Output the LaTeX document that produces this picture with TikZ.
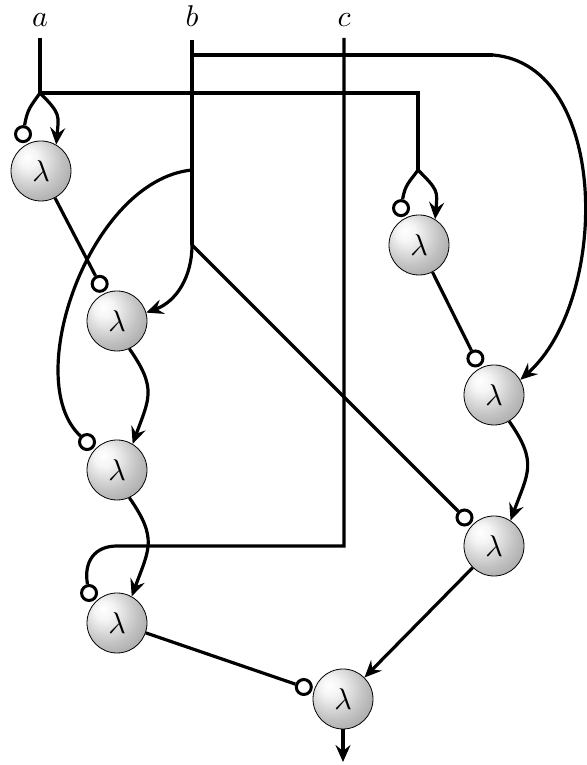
\documentclass[tikz,border=0pt]{standalone}
\usetikzlibrary{arrows.meta,calc}
\newcommand{\bigtxt}[1]{\scalebox{3}{$#1$}}
\pgfdeclareradialshading{lsphere}{\pgfpoint{-12bp}{12bp}}{%
  color(0bp)=(white); color(8bp)=(white!96!black); color(25bp)=(white!76!black);
  color(42bp)=(white!60!black); color(55bp)=(white!46!black); color(70bp)=(white!38!black)}
\begin{document}
\begin{tikzpicture}[x=1pt,y=1pt,
  wire/.style={line width=3.2pt},
  arr/.style={wire,-{Stealth[length=17pt,width=15pt,inset=6pt]}},
  lam/.style={circle,draw=black,line width=0.8pt,minimum size=60pt,inner sep=0pt,shading=lsphere},
  port/.style={circle,draw=black,line width=3pt,fill=white,minimum size=15pt,inner sep=0pt},
  lbl/.style={anchor=base,inner sep=0pt}]
\useasboundingbox (0,0) rectangle (586,765);
% labels
\node[lbl] (la) at (40,738) {\bigtxt{a}};
\node[lbl] (lb) at (192,738) {\bigtxt{b}};
\node[lbl] (lc) at (344,738) {\bigtxt{c}};
% lambda nodes
\node[lam] (L1) at (41,594) {\bigtxt{\lambda}};
\node[lam] (L2) at (419,520) {\bigtxt{\lambda}};
\node[lam] (L3) at (117,444) {\bigtxt{\lambda}};
\node[lam] (L4) at (494,370) {\bigtxt{\lambda}};
\node[lam] (L5) at (117,295) {\bigtxt{\lambda}};
\node[lam] (L6) at (494,219) {\bigtxt{\lambda}};
\node[lam] (L7) at (117,142) {\bigtxt{\lambda}};
\node[lam] (L8) at (343,66) {\bigtxt{\lambda}};
% ports
\node[port] (p1) at ($(L1)+(116:41)$) {};
\node[port] (p2) at ($(L2)+(116:41)$) {};
\node[port] (p3) at ($(L3)+(115:41)$) {};
\node[port] (p4) at ($(L4)+(117:41)$) {};
\node[port] (p5) at ($(L5)+(137:41)$) {};
\node[port] (p6) at ($(L6)+(136:41)$) {};
\node[port] (p7) at ($(L7)+(133:41)$) {};
\node[port] (p8) at ($(L8)+(163:41)$) {};
% coordinates
\coordinate (ta) at (40,727);
\coordinate (ja) at (40,672);
\coordinate (ka) at (418,672);
\coordinate (ja2) at (418,595);
\coordinate (tb) at (192,725);
\coordinate (jb1) at (192,710);
\coordinate (kb) at (493,710);
\coordinate (jb2) at (192,595);
\coordinate (jb3) at (192,520);
\coordinate (tc) at (344,727);
\coordinate (kc) at (344,219);
\coordinate (kc2) at (117,219);
\coordinate (out) at (343,3);
% wire a
\draw[wire] (ta) -- (ja) -- (ka) -- (ja2);
\draw[wire] (ja) to[out=-125,in=80,looseness=1.2] (p1);
\draw[arr] (ja) to[out=-45,in=85,looseness=1.4] (L1.60);
\draw[wire] (ja2) to[out=-125,in=80,looseness=1.2] (p2);
\draw[arr] (ja2) to[out=-45,in=85,looseness=1.4] (L2.58);
% wire b
\draw[wire] (tb) -- (jb3);
\draw[wire] (jb1) -- (kb);
\draw[arr] (kb) .. controls (610,700) and (610,465) .. (L4.30);
\draw[wire] (jb2) .. controls (90,585) and (20,385) .. (p5);
\draw[arr] (jb3) to[out=-90,in=20] (L3.16);
\draw[wire] (jb3) -- (p6);
% wire c
\draw[wire] (tc) -- (kc) -- (kc2) to[out=180,in=100,looseness=1.2] (p7);
% links
\draw[wire] (L1) -- (p3);
\draw[wire] (L2) -- (p4);
\draw[arr] (L3.-66) to[out=-55,in=70,looseness=1.3] (L5.59);
\draw[arr] (L5.-66) to[out=-55,in=70,looseness=1.3] (L7.61);
\draw[arr] (L4.-60) to[out=-55,in=70,looseness=1.3] (L6.57);
\draw[wire] (L7) -- (p8);
\draw[arr] (L6) -- (L8.45);
\draw[arr] (L8) -- (out);
\end{tikzpicture}
\end{document}
